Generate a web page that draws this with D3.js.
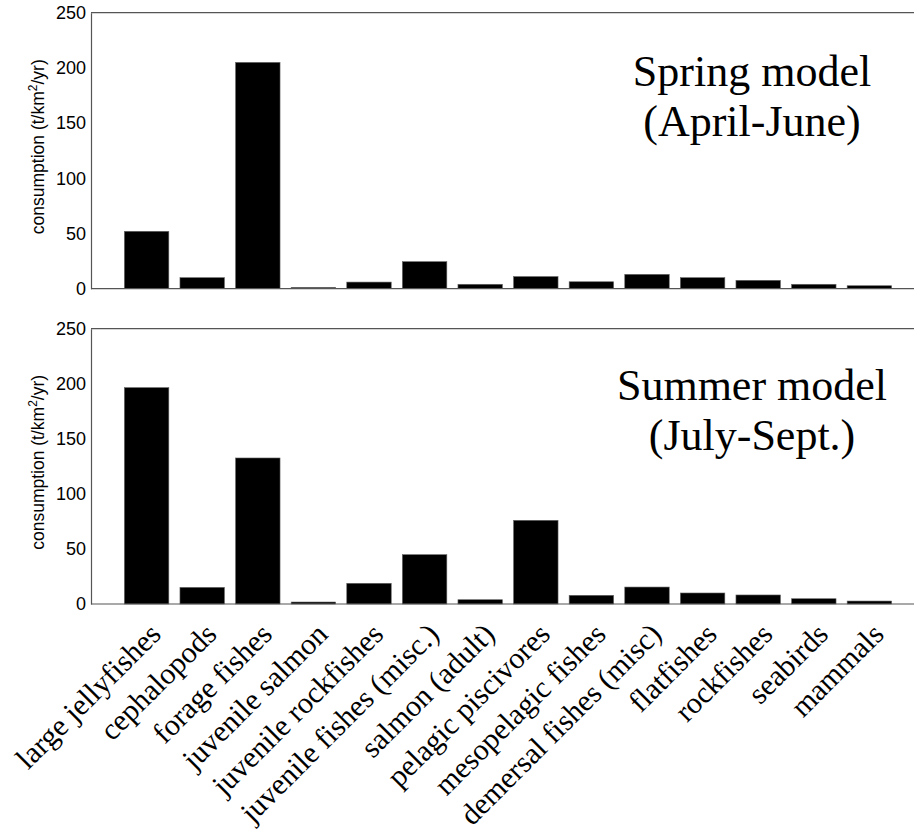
<!DOCTYPE html>
<html>
<head>
<meta charset="utf-8">
<script src="https://d3js.org/d3.v7.min.js"></script>
<style>
  body { margin: 0; background: #fff; }
  svg { display: block; }
</style>
</head>
<body>
<div id="chart"></div>
<script>
const categories = [
  "large jellyfishes", "cephalopods", "forage fishes", "juvenile salmon",
  "juvenile rockfishes", "juvenile fishes (misc.)", "salmon (adult)",
  "pelagic piscivores", "mesopelagic fishes", "demersal fishes (misc)",
  "flatfishes", "rockfishes", "seabirds", "mammals"
];
const springValues = [52, 10, 205, 1.2, 6, 24.5, 4, 11, 6.3, 13, 10, 7.6, 4, 2.7];
const summerValues = [196.5, 15.1, 132.6, 1.8, 18.8, 44.8, 3.9, 76, 7.9, 15.4, 10, 8.2, 4.8, 2.7];
const yTicks = [0, 50, 100, 150, 200, 250];
const springTitle = ["Spring model", "(April-June)"];
const summerTitle = ["Summer model", "(July-Sept.)"];

const W = 914, H = 830;
const svg = d3.select("#chart").append("svg").attr("width", W).attr("height", H);

const x = d3.scaleLinear().domain([0, categories.length + 1]).range([91, 925]);
const barW = x(0.8) - x(0);

const panels = [
  { values: springValues, title: springTitle, top: 12.7, bottom: 288.7, titleY: 86 },
  { values: summerValues, title: summerTitle, top: 328.7, bottom: 604, titleY: 400 }
];

const axisColor = "#555";

panels.forEach(p => {
  const y = d3.scaleLinear().domain([0, 250]).range([p.bottom, p.top]);
  const g = svg.append("g");

  g.selectAll("rect.bar").data(p.values).join("rect")
    .attr("class", "bar")
    .attr("x", (d, i) => x(i + 1) - barW / 2)
    .attr("width", barW)
    .attr("y", d => y(d))
    .attr("height", d => y(0) - y(d))
    .attr("fill", "#000")
    .attr("stroke", "#666")
    .attr("stroke-width", 0.6);

  const ya = g.append("g").attr("transform", `translate(${x(0)},0)`)
    .call(d3.axisLeft(y).tickValues(yTicks).tickSize(0).tickPadding(5));
  ya.select(".domain").attr("stroke", axisColor).attr("stroke-width", 1.2);
  ya.selectAll("text").attr("font-family", "Liberation Sans, Arial, sans-serif")
    .attr("font-size", 18).attr("fill", "#000");

  g.append("line").attr("x1", x(0)).attr("x2", x(categories.length + 1))
    .attr("y1", y(0)).attr("y2", y(0)).attr("stroke", axisColor).attr("stroke-width", 1.2);
  g.append("line").attr("x1", x(0)).attr("x2", x(categories.length + 1))
    .attr("y1", y(250)).attr("y2", y(250)).attr("stroke", axisColor).attr("stroke-width", 1.2);

  const yt = g.append("text")
    .attr("transform", `translate(44,${(p.top + p.bottom) / 2 - 4}) rotate(-90)`)
    .attr("text-anchor", "middle")
    .attr("font-family", "Liberation Sans, Arial, sans-serif")
    .attr("font-size", 17.5).attr("fill", "#000");
  yt.append("tspan").text("consumption (t/km");
  yt.append("tspan").text("2").attr("font-size", 12).attr("dy", -7);
  yt.append("tspan").text("/yr)").attr("dy", 7);

  p.title.forEach((line, k) => {
    g.append("text")
      .attr("x", 752).attr("y", p.titleY + k * 50)
      .attr("text-anchor", "middle")
      .attr("font-family", "Liberation Serif, Times New Roman, serif")
      .attr("font-size", 44).attr("fill", "#000")
      .text(line);
  });
});

svg.append("g").selectAll("text").data(categories).join("text")
  .attr("transform", (d, i) => `translate(${x(i + 1) + 16},636) rotate(-45)`)
  .attr("text-anchor", "end")
  .attr("font-family", "Liberation Serif, Times New Roman, serif")
  .attr("font-size", 30).attr("fill", "#000")
  .text(d => d);
</script>
</body>
</html>
